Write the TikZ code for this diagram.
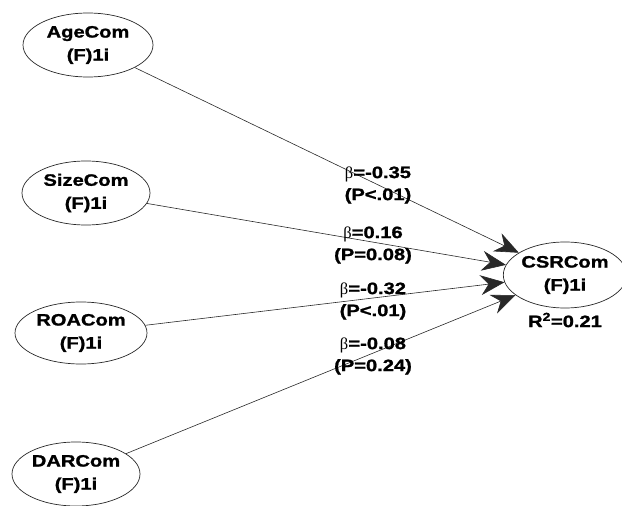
\documentclass[tikz,border=0pt]{standalone}
\usepackage{fontspec}
\newfontfamily\pathfont[FakeStretch=1.22, FakeBold=1.3]{Liberation Sans}
\newfontfamily\betafont{Liberation Serif}
\usetikzlibrary{arrows.meta, shapes.geometric}
\definecolor{pathgray}{RGB}{40,40,40}
\newcommand{\bt}{{\betafont\mdseries β}}

\begin{document}
\begin{tikzpicture}[x=1pt, y=-1pt,
  latent/.style={ellipse, draw=pathgray, line width=0.7pt, inner sep=0pt,
    minimum width=130pt, minimum height=64pt, align=center,
    font=\pathfont\bfseries\fontsize{16.5}{23}\selectfont},
  effect/.style={draw=pathgray, line width=0.6pt,
    -{Stealth[length=24pt, width=20pt, inset=8pt]}},
  coef/.style={align=center, inner sep=0pt,
    font=\pathfont\bfseries\fontsize{16.5}{22}\selectfont}]
  \useasboundingbox (0,0) rectangle (622,506);
  % exogenous constructs
  \node[latent] (age)  at (88,45)  {AgeCom\\(F)1i};
  \node[latent, minimum width=128pt] (size) at (86,193) {SizeCom\\(F)1i};
  \node[latent, minimum width=132pt, minimum height=62pt] (roa) at (81,333) {ROACom\\(F)1i};
  \node[latent, minimum width=128pt] (dar)  at (76,474) {DARCom\\(F)1i};
  % endogenous construct
  \node[latent, minimum width=112pt, minimum height=66pt] (csr) at (565,275) {CSRCom\\(F)1i};
  \node[coef] (rsq) at (565,320) {R\textsuperscript{2}=0.21};
  % structural paths
  \draw[effect] (age)  -- (csr);
  \draw[effect] (size) -- (csr);
  \draw[effect] (roa)  -- (csr);
  \draw[effect] (dar)  -- (csr);
  % path coefficients
  \node[coef] (bage)  at (378,185) {\bt=-0.35\\(P<.01)};
  \node[coef] (bsize) at (373,245) {\bt=0.16\\(P=0.08)};
  \node[coef] (broa)  at (373,301) {\bt=-0.32\\(P<.01)};
  \node[coef] (bdar)  at (373,356) {\bt=-0.08\\(P=0.24)};
\end{tikzpicture}
\end{document}
